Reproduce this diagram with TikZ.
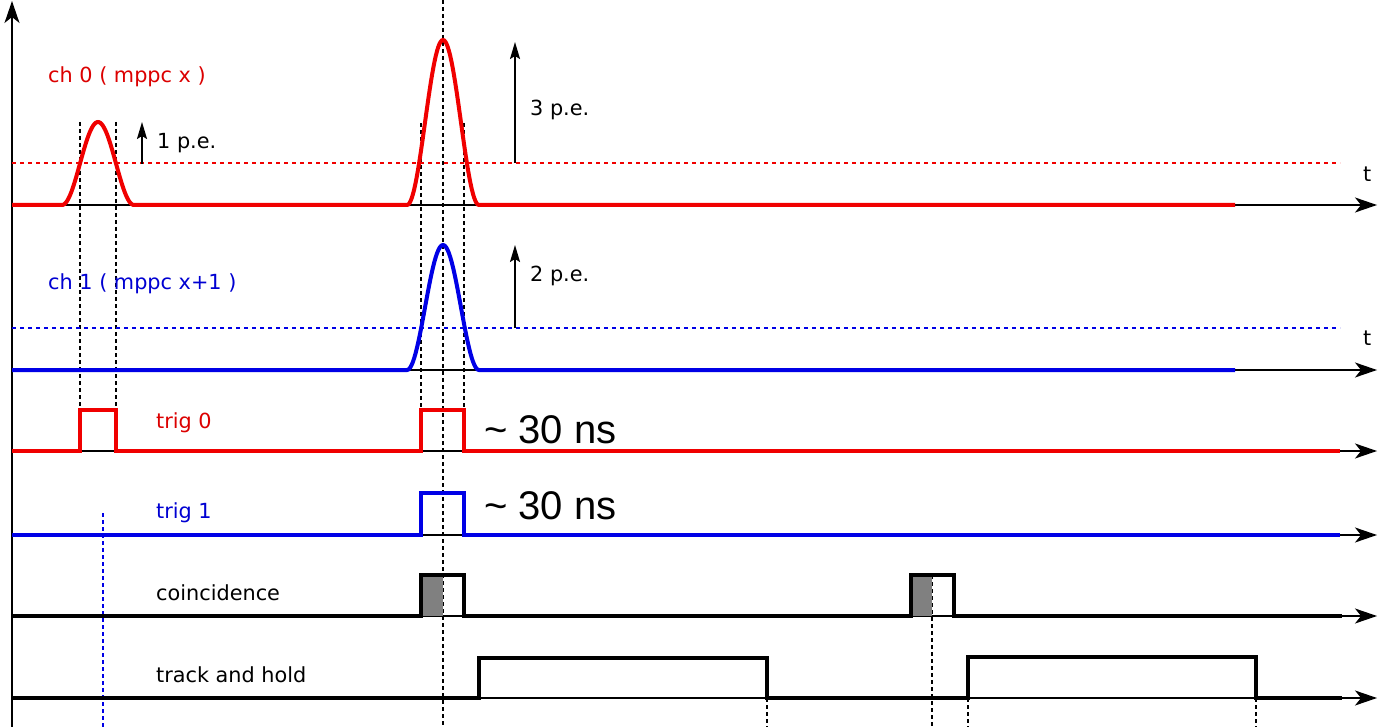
\documentclass[tikz,border=0pt]{standalone}
\usepackage{fontspec}
\setmainfont{DejaVu Sans}
\newfontfamily\arialfont{Liberation Sans}
\usetikzlibrary{arrows.meta}
\definecolor{sigred}{RGB}{240,0,0}
\definecolor{sigblue}{RGB}{0,0,230}
\definecolor{txtred}{RGB}{220,0,0}
\definecolor{txtblue}{RGB}{0,0,210}
\definecolor{fillgray}{RGB}{128,128,128}
\begin{document}
\begin{tikzpicture}[x=1pt,y=-1pt,
 axisline/.style={line width=1.6pt,-{Stealth[length=22pt,width=15pt,inset=6pt]}},
 sig/.style={line width=4pt},
 guide/.style={line width=1.3pt, dash pattern=on 4pt off 3pt},
 thr/.style={line width=1.3pt, dash pattern=on 4pt off 4pt},
 pe/.style={line width=1.8pt,-{Stealth[length=17pt,width=10pt,inset=3pt]}},
 lab/.style={font=\fontsize{20.8}{24}\selectfont, anchor=base west, inner sep=0pt},
 big/.style={font=\arialfont\fontsize{40}{46}\selectfont, anchor=base west, inner sep=0pt},
]
\useasboundingbox (0,0) rectangle (1378,727);
\fill[white] (0,0) rectangle (1378,727);
% axes
\draw[axisline] (12,727) -- (12,1);
\foreach \y in {205,370,451,535,616,698} \draw[axisline] (12,\y) -- (1377,\y);
% guides
\draw[guide] (443,0) -- (443,727);
\draw[guide] (80,122) -- (80,410);
\draw[guide] (116,122) -- (116,410);
\draw[guide] (421,123) -- (421,410);
\draw[guide] (464,123) -- (464,410);
\draw[guide, sigblue] (103,513) -- (103,727);
\draw[guide] (932,575) -- (932,727);
\draw[guide] (767,698) -- (767,727);
\draw[guide] (968,698) -- (968,727);
\draw[guide] (1256,698) -- (1256,727);
% thresholds
\draw[thr, sigred] (12,163) -- (1340,163);
\draw[thr, sigblue] (12,328) -- (1340,328);
% grey fills
\fill[fillgray] (421,575) rectangle (443,616);
\fill[fillgray] (911,575) rectangle (932,616);
% signals
\draw[sig, sigred] (12,205) -- (62,205)
  -- plot[domain=-36:36,samples=61] ({98+\x},{205-83*(cos(2.5*\x))^2})
  -- (407,205)
  -- plot[domain=-36:36,samples=61] ({443+\x},{205-165*(cos(2.5*\x))^2})
  -- (1235,205);
\draw[sig, sigblue] (12,370) -- (407,370)
  -- plot[domain=-36:36,samples=61] ({443+\x},{370-125*(cos(2.5*\x))^2})
  -- (1235,370);
\draw[sig, sigred] (12,451) -- (80,451) -- (80,410) -- (116,410) -- (116,451) -- (421,451) -- (421,410) -- (464,410) -- (464,451) -- (1340,451);
\draw[sig, sigblue] (12,535) -- (421,535) -- (421,493) -- (464,493) -- (464,535) -- (1340,535);
\draw[sig] (12,616) -- (421,616) -- (421,575) -- (464,575) -- (464,616) -- (911,616) -- (911,575) -- (954,575) -- (954,616) -- (1342,616);
\draw[sig] (12,698) -- (479,698) -- (479,658) -- (767,658) -- (767,698) -- (968,698) -- (968,657) -- (1256,657) -- (1256,698) -- (1342,698);
% p.e. arrows
\draw[pe] (142,164) -- (142,122);
\draw[pe] (515,163) -- (515,42);
\draw[pe] (515,328) -- (515,245);
% labels
\node[lab, txtred] (ch0) at (48,83) {ch 0 ( mppc x )};
\node[lab, txtblue] (ch1) at (48,289) {ch 1 ( mppc x+1 )};
\node[lab] (pe1) at (157,149) {1 p.e.};
\node[lab] (pe3) at (530,116) {3 p.e.};
\node[lab] (pe2) at (530,281) {2 p.e.};
\node[lab] (t0) at (1363,182) {t};
\node[lab] (t1) at (1363,345) {t};
\node[lab, txtred] (trig0) at (156,428) {trig 0};
\node[lab, txtblue] (trig1) at (156,518) {trig 1};
\node[lab] (coinc) at (156,600) {coincidence};
\node[lab] (th) at (156,682) {track and hold};
\node[big] (ns0) at (484,443) {\textasciitilde{} 30 ns};
\node[big] (ns1) at (484,519) {\textasciitilde{} 30 ns};
\end{tikzpicture}
\end{document}
